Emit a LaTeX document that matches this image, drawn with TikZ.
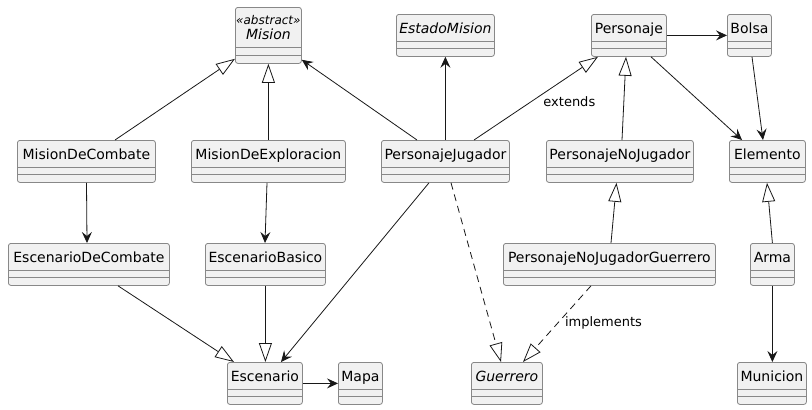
\documentclass[tikz,border=0pt]{standalone}
\usepackage{fontspec}
\setmainfont{DejaVu Sans}
\usetikzlibrary{arrows.meta}
\definecolor{boxfill}{HTML}{F1F1F1}
\definecolor{boxline}{HTML}{888888}
\definecolor{edgecol}{HTML}{181818}
\tikzset{
 cls/.style={draw=boxline, fill=boxfill, rounded corners=2.5pt, line width=0.8pt, inner sep=0pt,
   anchor=north west, text height=19pt, text depth=23pt, font=\fontsize{14}{16}\selectfont},
 sepline/.style={draw=boxline, line width=0.8pt},
 assoc/.style={draw=edgecol, line width=0.8pt, -{Stealth[length=11pt,width=10pt,inset=4pt]}},
 inh/.style={draw=edgecol, line width=0.8pt, -{Triangle[length=19pt,width=13pt,fill=white]}},
 real/.style={inh, dash pattern=on 7pt off 5pt},
 lbl/.style={font=\fontsize{13}{15}\selectfont, text=black, inner sep=0pt}
}
\newcommand\clssep[3]{%
  \draw[sepline] ([yshift=-#2pt]#1.north west) -- ([yshift=-#2pt]#1.north east);
  \draw[sepline] ([yshift=-#3pt]#1.north west) -- ([yshift=-#3pt]#1.north east);}
\begin{document}
\begin{tikzpicture}[x=1pt,y=-1pt]
\fill[white] (0,0) rectangle (812,410);
\useasboundingbox (0,0) rectangle (812,410);
% row 1
\node[cls, minimum width=66pt, text height=32pt, text depth=24pt, font=\fontsize{14}{15}\selectfont] (mis) at (235,7)
  {\begin{tabular}[b]{@{}c@{}}{\fontsize{12}{15}\selectfont\itshape «abstract»}\\ \itshape Mision\end{tabular}};
\clssep{mis}{40}{48}
\node[cls, minimum width=98pt] (est) at (396,14) {\itshape EstadoMision};
\clssep{est}{27}{34.5}
\node[cls, minimum width=75pt] (per) at (591,14) {Personaje};
\clssep{per}{27}{34.5}
\node[cls, minimum width=44pt] (bol) at (727,14) {Bolsa};
\clssep{bol}{27}{34.5}
% row 2
\node[cls, minimum width=138pt] (mdc) at (17,140) {MisionDeCombate};
\clssep{mdc}{27}{34.5}
\node[cls, minimum width=154pt] (mde) at (191,140) {MisionDeExploracion};
\clssep{mde}{27}{34.5}
\node[cls, minimum width=128pt] (pj) at (381,140) {PersonajeJugador};
\clssep{pj}{27}{34.5}
\node[cls, minimum width=147pt] (pnj) at (546,140) {PersonajeNoJugador};
\clssep{pnj}{27}{34.5}
\node[cls, minimum width=76pt] (ele) at (729,140) {Elemento};
\clssep{ele}{27}{34.5}
% row 3
\node[cls, minimum width=161pt] (edc) at (8,243) {EscenarioDeCombate};
\clssep{edc}{27}{34.5}
\node[cls, minimum width=120pt] (eb) at (205,243) {EscenarioBasico};
\clssep{eb}{27}{34.5}
\node[cls, minimum width=212pt] (pnjg) at (503,243) {PersonajeNoJugadorGuerrero};
\clssep{pnjg}{27}{34.5}
\node[cls, minimum width=44pt] (arma) at (750,243) {Arma};
\clssep{arma}{27}{34.5}
% row 4
\node[cls, minimum width=75pt] (esc) at (227,362) {Escenario};
\clssep{esc}{27}{34.5}
\node[cls, minimum width=44pt] (map) at (338,362) {Mapa};
\clssep{map}{27}{34.5}
\node[cls, minimum width=71pt] (gue) at (471,362) {\itshape Guerrero};
\clssep{gue}{27}{34.5}
\node[cls, minimum width=69pt] (mun) at (737,362) {Municion};
\clssep{mun}{27}{34.5}
% connectors
\draw[inh] ([xshift=98pt]mdc.north west) -- ([yshift=5pt]mis.south west);
\draw[inh] (mde.north) -- (mis.south);
\draw[assoc] ([xshift=36pt]pj.north west) -- ([yshift=4pt]mis.south east);
\draw[assoc] (pj.north) -- (est.south);
\draw[inh] ([xshift=93pt]pj.north west) -- node[lbl, pos=0.46, anchor=west, xshift=12pt] (lext) {extends} ([xshift=7pt]per.south west);
\draw[inh] ([xshift=76pt]pnj.north west) -- ([xshift=35pt]per.south west);
\draw[assoc] (per.east) -- (bol.west);
\draw[assoc] ([xshift=60pt]per.south west) -- ([xshift=13pt]ele.north west);
\draw[assoc] ([xshift=25pt]bol.south west) -- ([xshift=34pt]ele.north west);
\draw[inh] (arma.north) -- ([xshift=38pt]ele.south west);
\draw[assoc] (arma.south) -- (arma.south |- mun.north);
\draw[inh] ([xshift=108pt]pnjg.north west) -- ([xshift=70.5pt]pnj.south west);
\draw[real] ([xshift=88pt]pnjg.south west) -- node[lbl, pos=0.49, anchor=west, xshift=7pt] (limp) {implements} ([xshift=52pt]gue.north west);
\draw[real] ([xshift=70pt]pj.south west) -- ([xshift=30pt]gue.north west);
\draw[assoc] ([xshift=48pt]pj.south west) -- ([xshift=54pt]esc.north west);
\draw[assoc] ([xshift=69.5pt]mdc.south west) -- ([xshift=79pt]edc.north west);
\draw[assoc] ([xshift=76pt]mde.south west) -- ([xshift=60pt]eb.north west);
\draw[inh] ([xshift=110pt]edc.south west) -- ([xshift=7pt]esc.north west);
\draw[inh] (eb.south) -- (eb.south |- esc.north);
\draw[assoc] (esc.east) -- (map.west);
\end{tikzpicture}
\end{document}
